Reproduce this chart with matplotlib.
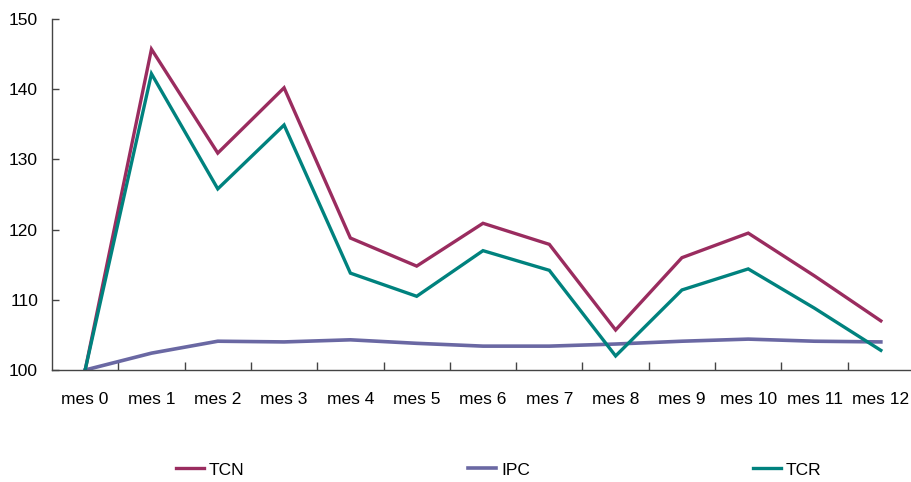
import matplotlib
matplotlib.use("Agg")
import matplotlib.pyplot as plt
from matplotlib import font_manager

months = ["mes 0", "mes 1", "mes 2", "mes 3", "mes 4", "mes 5", "mes 6",
          "mes 7", "mes 8", "mes 9", "mes 10", "mes 11", "mes 12"]
tcn = [100, 145.7, 130.9, 140.2, 118.8, 114.8, 120.9, 117.9, 105.7, 116.0, 119.5, 113.4, 107.0]
ipc = [100, 102.4, 104.1, 104.0, 104.3, 103.8, 103.4, 103.4, 103.7, 104.1, 104.4, 104.1, 104.0]
tcr = [100, 142.2, 125.8, 134.9, 113.8, 110.5, 117.0, 114.2, 102.0, 111.4, 114.4, 108.8, 102.8]
y_ticks = [100, 110, 120, 130, 140, 150]

names = {f.name for f in font_manager.fontManager.ttflist}
family = ["Liberation Sans Narrow", "Liberation Sans", "DejaVu Sans"]
family = [f for f in family if f in names] or ["DejaVu Sans"]
plt.rcParams["font.family"] = family
plt.rcParams["font.size"] = 12.5

colors = {"TCN": "#9a2c5f", "IPC": "#6a68a3", "TCR": "#00827e"}

fig = plt.figure(figsize=(9.12, 4.82), dpi=100)
ax = fig.add_axes([52 / 912, 1 - 370 / 482, 862 / 912, 351 / 482])

x = list(range(len(months)))
h_tcn, = ax.plot(x, tcn, color=colors["TCN"], lw=2.4, label="TCN", solid_joinstyle="miter")
h_ipc, = ax.plot(x, ipc, color=colors["IPC"], lw=2.6, label="IPC")
h_tcr, = ax.plot(x, tcr, color=colors["TCR"], lw=2.4, label="TCR", solid_joinstyle="miter")

ax.set_xlim(-0.5, len(months) - 0.5)
ax.set_ylim(100, 150)
ax.set_yticks(y_ticks)
ax.set_xticks(x)
ax.set_xticklabels(months)
ax.set_xticks([i + 0.5 for i in x[:-1]], minor=True)

for s in ["top", "right"]:
    ax.spines[s].set_visible(False)
for s in ["left", "bottom"]:
    ax.spines[s].set_color("#444444")
    ax.spines[s].set_linewidth(1.0)

ax.tick_params(axis="y", direction="in", length=5, width=1, color="#444444", pad=10)
ax.tick_params(axis="x", which="major", length=0, pad=16)
ax.tick_params(axis="x", which="minor", direction="in", length=6, width=1, color="#444444")

for h, xpos in [(h_tcn, 176), (h_ipc, 468), (h_tcr, 753)]:
    fig.legend(handles=[h], loc="center left",
               bbox_to_anchor=(xpos / 912, 1 - 470 / 482),
               frameon=False, handlelength=1.6, handletextpad=0.3,
               borderaxespad=0, borderpad=0)

fig.savefig("out.png", dpi=100)
